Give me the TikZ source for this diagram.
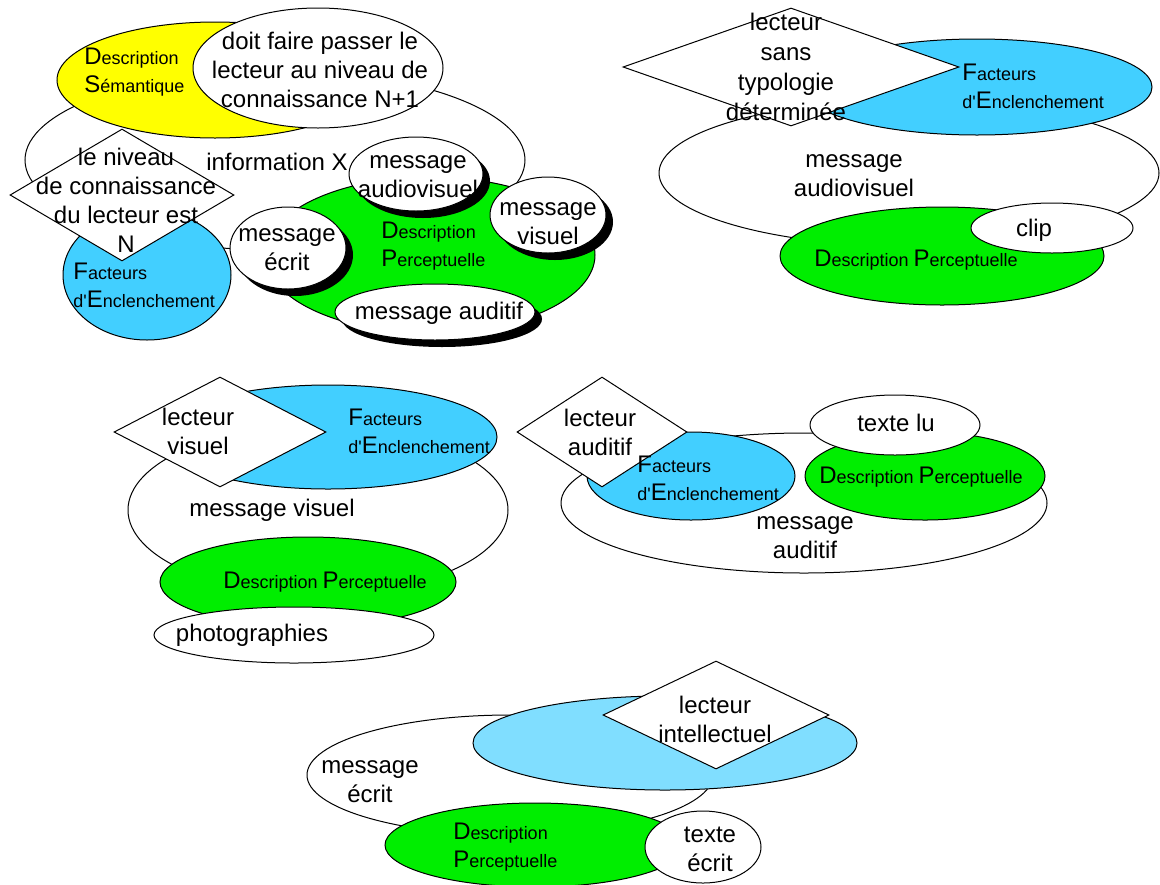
\documentclass[tikz,border=0pt]{standalone}
\usepackage{fontspec}
\setmainfont{Liberation Sans}
\usetikzlibrary{shapes.geometric,shadows}
\definecolor{jaune}{RGB}{255,255,0}
\definecolor{bleu}{RGB}{66,207,255}
\definecolor{bleuclair}{RGB}{128,222,255}
\definecolor{vert}{RGB}{0,238,0}
\newcommand{\initiale}[1]{{\fontsize{12}{12}\selectfont #1}}
\newcommand{\enclench}{\initiale{F}acteurs\\d\textquotesingle\initiale{E}nclenchement}
\tikzset{
  taille/.style 2 args={minimum width=#1pt, minimum height=#2pt},
  zone/.style={ellipse, draw, line width=0.5pt, inner sep=0pt},
  blanc/.style={zone, fill=white},
  ombre/.style={blanc, general shadow={fill=black, shadow xshift=3.5pt, shadow yshift=-3.5pt}},
  losange/.style={diamond, draw, fill=white, line width=0.5pt, inner sep=0pt},
  mot/.style={font=\fontsize{12}{14.5}\selectfont, align=center, inner sep=0pt},
  petit/.style={font=\fontsize{9}{14}\selectfont, align=left, inner sep=0pt, anchor=west}
}
\begin{document}
\begin{tikzpicture}[x=0.5pt, y=-0.5pt]
    \path[use as bounding box, fill=white] (0,0) rectangle (1160,884);
    % information X
    \node[blanc, taille={250}{90}] (infoX) at (275,160) {};
    \node[zone, fill=jaune, taille={158}{58}] (semant) at (215,80) {};
    \node[blanc, taille={125}{60}] (nplus) at (318,68) {};
    \node[zone, fill=bleu, taille={84}{65}] (fact1) at (147,275) {};
    \node[losange, taille={112}{66}] (niveau) at (122,195) {};
    \node[zone, fill=vert, taille={165}{78}] (perc1) at (430,255) {};
    \node[ombre, taille={58}{41}] (ecrit1) at (288,248) {};
    \node[ombre, taille={67}{37}] (audvis1) at (416,174) {};
    \node[ombre, taille={58}{38}] (visuel1) at (548,215) {};
    \node[ombre, taille={100}{28}] (auditif1) at (435,312) {};
    \node[petit] (tsemant) at (84,72) {\initiale{D}escription\\\initiale{S}émantique};
    \node[mot] (tnplus) at (320,70) {doit faire passer le\\lecteur au niveau de\\connaissance N+1};
    \node[mot] (tinfo) at (277,162) {information X};
    \node[mot] (tniveau) at (126,200) {le niveau\\de connaissance\\du lecteur est\\N};
    \node[petit] (tfact1) at (73,285) {\enclench};
    \node[petit] (tperc1) at (381,246) {\initiale{D}escription\\\initiale{P}erceptuelle};
    \node[mot] (tecrit1) at (287,250) {message\\écrit};
    \node[mot] (taudvis1) at (418,177) {message\\audiovisuel};
    \node[mot] (tvisuel1) at (548,224) {message\\visuel};
    \node[mot] (tauditif1) at (439,313) {message auditif};
    % lecteur sans typologie
    \node[blanc, taille={250}{73}] (audvis2) at (909,173) {};
    \node[zone, fill=vert, taille={162}{49}] (perc2) at (942,256) {};
    \node[blanc, taille={81}{25}] (clip) at (1052,228) {};
    \node[zone, fill=bleu, taille={175}{48}] (fact2) at (977,87) {};
    \node[losange, taille={168}{59}] (sanstypo) at (791,67) {};
    \node[mot, font=\fontsize{12}{15}\selectfont] (tsanstypo) at (786,67) {lecteur\\sans\\typologie\\déterminée};
    \node[petit] (tfact2) at (962,86) {\enclench};
    \node[mot] (taudvis2) at (854,176) {message\\audiovisuel};
    \node[mot] (tclip) at (1034,230) {clip};
    \node[petit, anchor=center] (tperc2) at (916,260) {\initiale{D}escription \initiale{P}erceptuelle};
    % lecteur visuel
    \node[blanc, taille={190}{85}] (visuel3) at (318,510) {};
    \node[zone, fill=bleu, taille={169}{52}] (fact3) at (328,437) {};
    \node[losange, taille={106}{55}] (lectvis) at (220,432) {};
    \node[zone, fill=vert, taille={148}{45}] (perc3) at (308,582) {};
    \node[blanc, taille={140}{28}] (photo) at (294,635) {};
    \node[mot] (tlectvis) at (198,431) {lecteur\\visuel};
    \node[petit] (tfact3) at (348,431) {\enclench};
    \node[mot] (tvisuel3) at (272,510) {message visuel};
    \node[petit, anchor=center] (tperc3) at (325,582) {\initiale{D}escription \initiale{P}erceptuelle};
    \node[mot] (tphoto) at (252,635) {photographies};
    % lecteur auditif
    \node[blanc, taille={243}{70}] (auditif4) at (804,503) {};
    \node[zone, fill=bleu, taille={104}{44}] (fact4) at (691,476) {};
    \node[losange, taille={85}{55}] (lectaud) at (602,432) {};
    \node[zone, fill=vert, taille={120}{44}] (perc4) at (925,476) {};
    \node[blanc, taille={85}{30}] (textelu) at (895,425) {};
    \node[mot] (tlectaud) at (600,432) {lecteur\\auditif};
    \node[petit] (tfact4) at (637,478) {\enclench};
    \node[mot] (ttextelu) at (896,423) {texte lu};
    \node[petit, anchor=center] (tperc4) at (921,477) {\initiale{D}escription \initiale{P}erceptuelle};
    \node[mot] (tauditif4) at (805,538) {message\\auditif};
    % lecteur intellectuel
    \node[blanc, taille={203}{60}] (ecrit5) at (510,775) {};
    \node[zone, fill=bleuclair, taille={192}{47}] (fact5) at (665,743) {};
    \node[losange, taille={113}{54}] (lectint) at (716,715) {};
    \node[zone, fill=vert, taille={150}{42}] (perc5) at (535,845) {};
    \node[blanc, taille={58}{36}] (texteecrit) at (703,847) {};
    \node[mot] (tecrit5) at (370,782) {message\\écrit};
    \node[mot] (tlectint) at (715,719) {lecteur\\intellectuel};
    \node[petit] (tperc5) at (453,847) {\initiale{D}escription\\\initiale{P}erceptuelle};
    \node[mot] (ttexteecrit) at (710,849) {texte\\écrit};
\end{tikzpicture}
\end{document}
